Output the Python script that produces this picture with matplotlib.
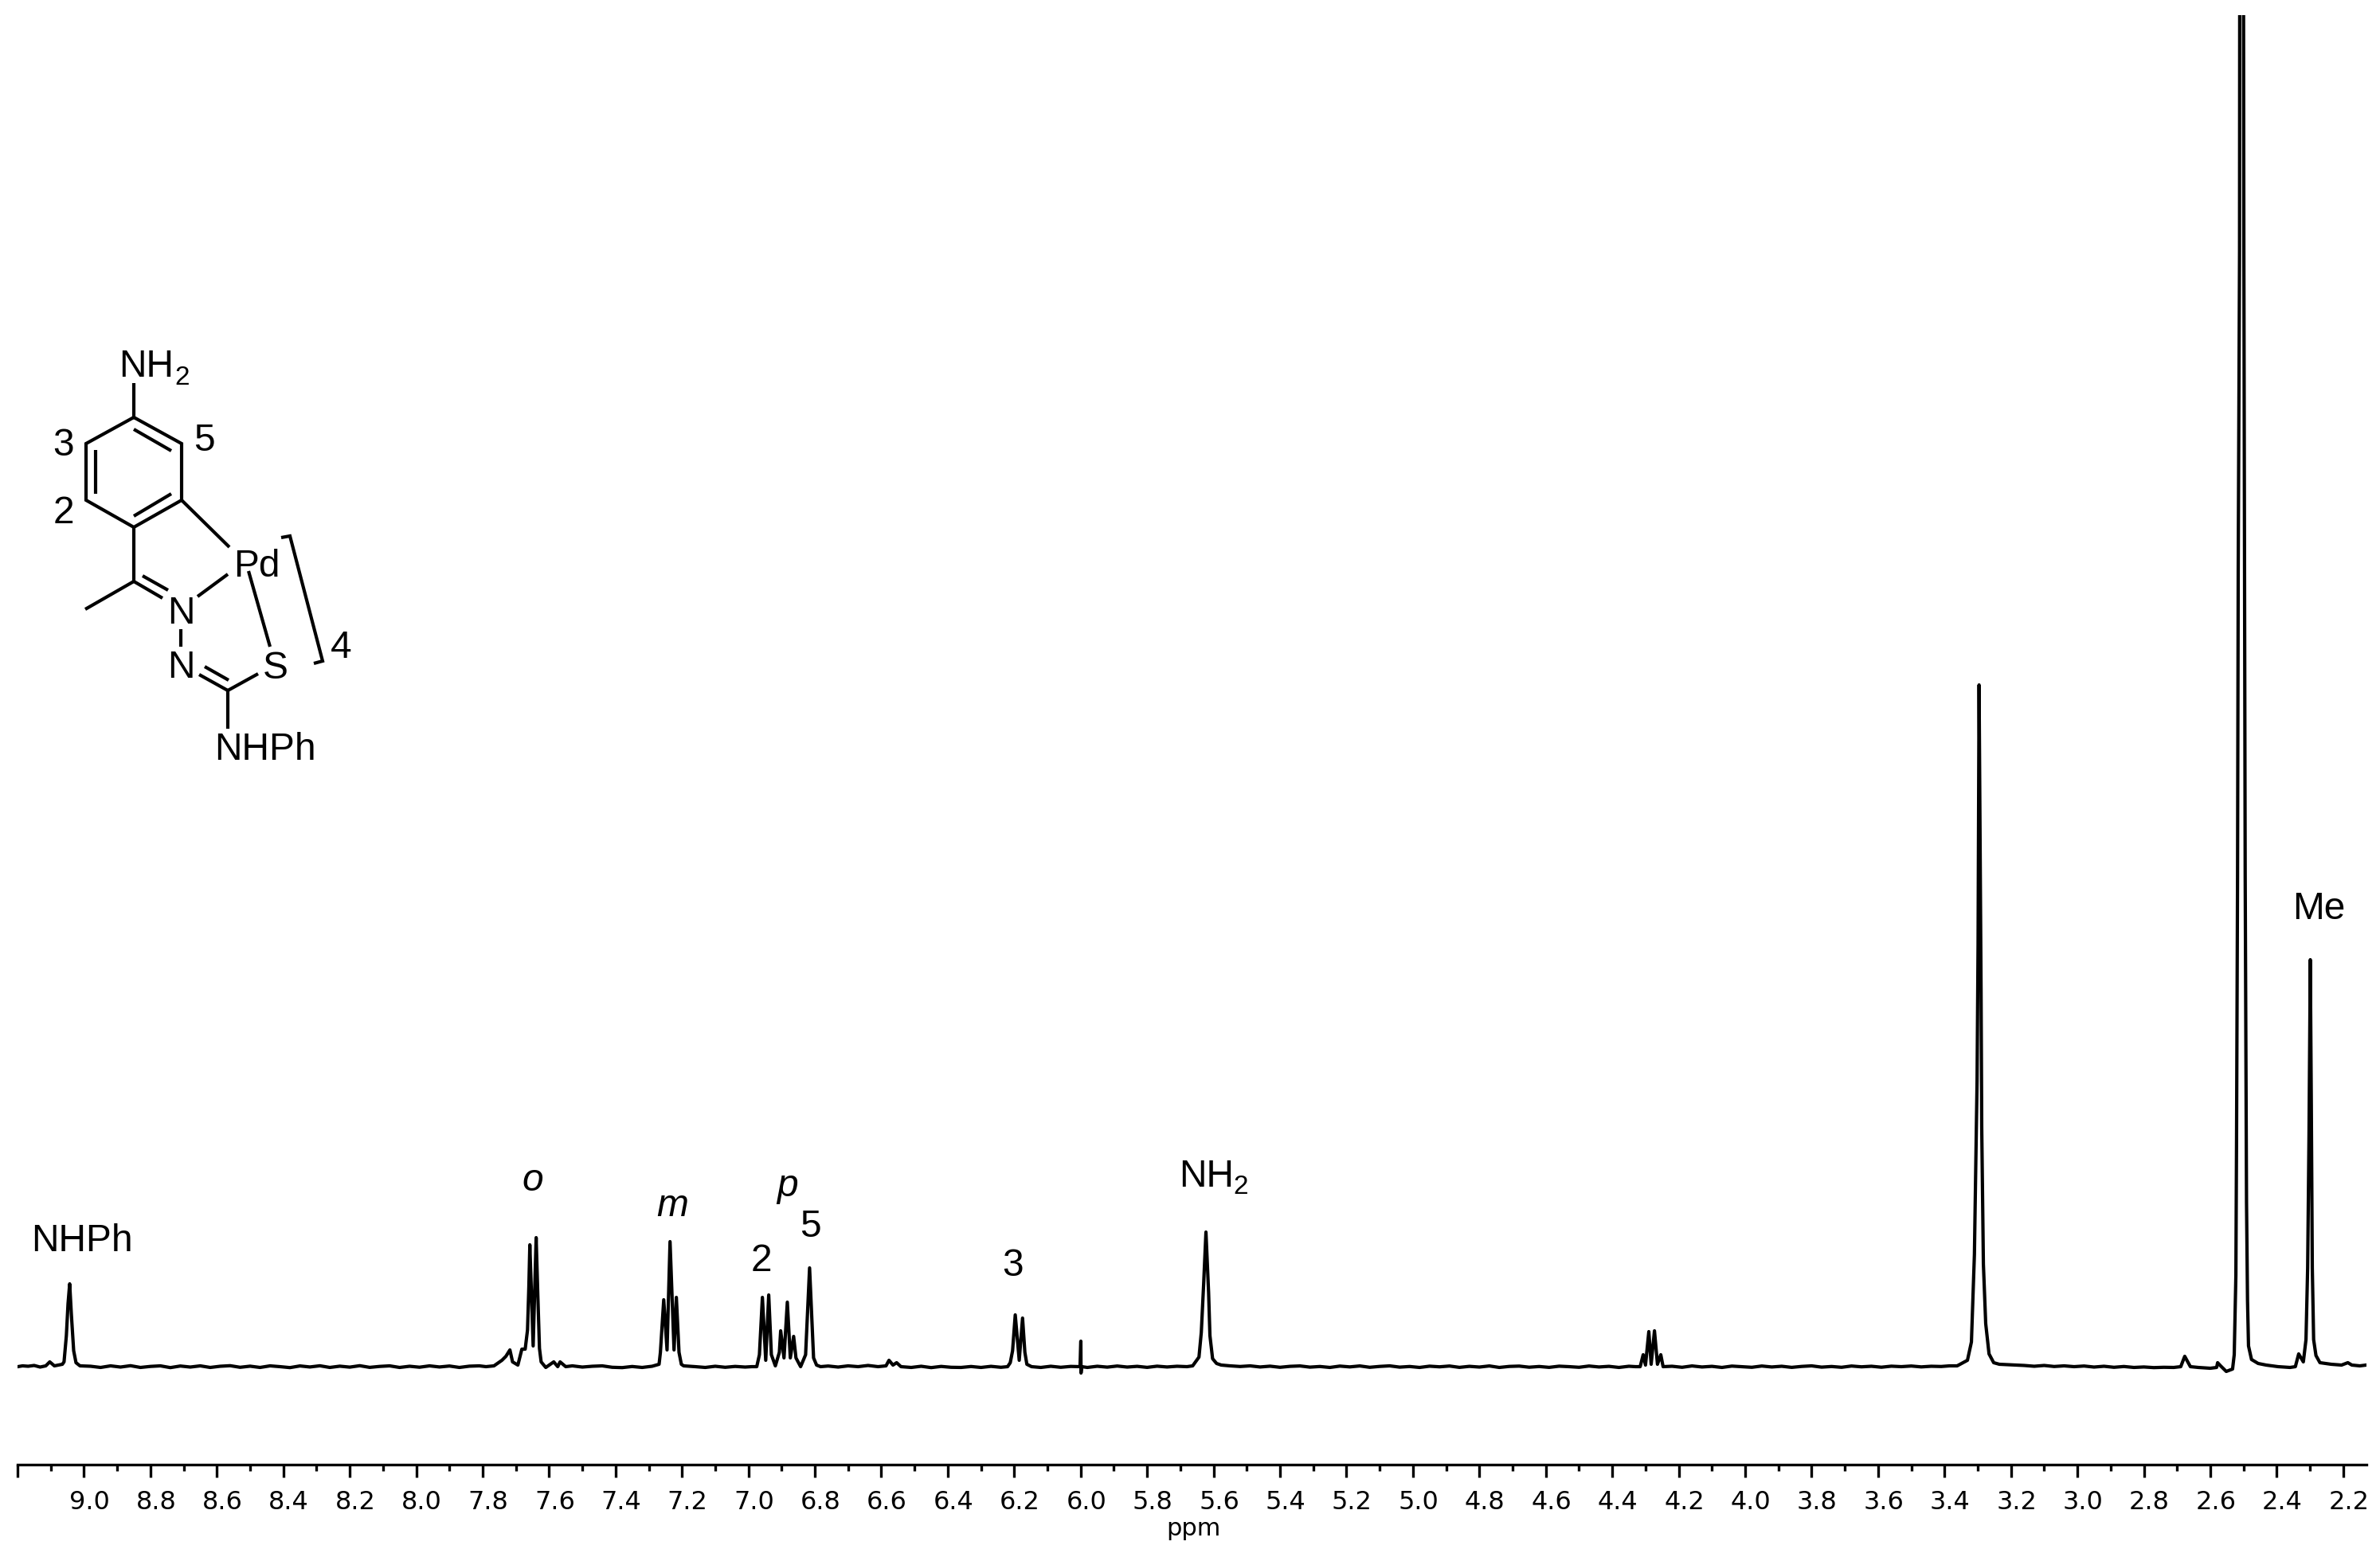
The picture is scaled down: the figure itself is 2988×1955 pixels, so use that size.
import numpy as np
import matplotlib
matplotlib.use('Agg')
import matplotlib.pyplot as plt
from matplotlib.transforms import ScaledTranslation

# traced spectrum, ppm and height above baseline (arbitrary units)
ppm_nhph = [9.199, 9.185, 9.168, 9.150, 9.132, 9.115, 9.103, 9.089, 9.065, 9.060, 9.053, 9.048, 9.043, 9.038, 9.031, 9.024, 9.012]
int_nhph = [0, 1, 0.5, 1.5, -0.5, 1, 6, 1, 3, 6, 39, 79, 104, 66, 20, 5, 1]

ppm_base1 = [8.98, 8.95, 8.92, 8.89, 8.86, 8.83, 8.80, 8.77, 8.74, 8.71, 8.68, 8.65, 8.62, 8.59, 8.56, 8.53, 8.50, 8.47, 8.44, 8.41, 8.38, 8.35, 8.32, 8.29, 8.26, 8.23, 8.20, 8.17, 8.14, 8.11, 8.08, 8.05, 8.02, 7.99, 7.96, 7.93, 7.90, 7.87, 7.84, 7.81, 7.79]
int_base1 = [0.5, -1, 1, -0.5, 1.2, -1, 0.3, 1, -1.2, 0.8, -0.5, 1, -1, 0.5, 1.2, -0.8, 0.6, -1, 1, 0, -1.2, 0.9, -0.4, 1.1, -1, 0.6, -0.6, 1.2, -0.9, 0.3, 1, -1, 0.5, -0.7, 1, -0.4, 0.8, -1, 0.6, 1, 0]

ppm_ortho = [7.766, 7.742, 7.730, 7.718, 7.710, 7.694, 7.682, 7.672, 7.665, 7.661, 7.658, 7.648, 7.639, 7.634, 7.629, 7.624, 7.610, 7.586, 7.574, 7.567, 7.550]
int_ortho = [1, 8, 13, 21, 6, 2, 22, 22, 46, 100, 153, 26, 162, 90, 23, 6, -1, 6, 0, 6, 0]

ppm_base2 = [7.53, 7.50, 7.47, 7.44, 7.41, 7.38, 7.35, 7.32, 7.29]
int_base2 = [1, -0.5, 0.5, 1, -0.8, -1.2, 0.2, -1, 0.5]

ppm_meta = [7.269, 7.265, 7.255, 7.245, 7.236, 7.224, 7.217, 7.209, 7.202, 7.195]
int_meta = [3, 18, 84, 21, 157, 21, 87, 18, 3, 1]

ppm_base3 = [7.16, 7.13, 7.10, 7.07, 7.04, 7.01, 6.99]
int_base3 = [0, -1, 0.5, -0.8, 0.3, -0.5, 0]

ppm_h2p5 = [6.975, 6.967, 6.958, 6.948, 6.939, 6.931, 6.919, 6.907, 6.903, 6.893, 6.883, 6.874, 6.864, 6.857, 6.843, 6.828, 6.816, 6.804, 6.795, 6.783]
int_h2p5 = [0, 15, 87, 8, 90, 15, 1, 18, 45, 11, 81, 11, 38, 11, 0, 15, 124, 11, 2, 0]

ppm_base4 = [6.76, 6.73, 6.70, 6.67, 6.64, 6.61, 6.586, 6.577, 6.565, 6.554, 6.541, 6.51, 6.48, 6.45, 6.42, 6.39, 6.36, 6.33, 6.30, 6.27, 6.24, 6.22]
int_base4 = [0.8, -0.5, 1, 0, 1.5, 0, 1, 8, 2, 5, 0, -1, 0.5, -1.2, 0.3, -0.8, -1, 0.2, -1, 0.4, -0.8, 0]

ppm_h3 = [6.212, 6.205, 6.197, 6.185, 6.175, 6.168, 6.162, 6.148]
int_h3 = [5, 20, 65, 8, 61, 18, 3, 0]

ppm_base5 = [6.12, 6.09, 6.06, 6.03, 6.005, 6.002, 5.9995, 5.999, 5.997, 5.98, 5.95, 5.92, 5.89, 5.86, 5.83, 5.80, 5.77, 5.74, 5.71, 5.68]
int_base5 = [-1, 0.5, -0.8, 0.3, 0, 0, 32, -8, 0, -1, 0.5, -0.6, 0.8, -0.5, 0.4, -0.9, 0.6, -0.4, 0.5, 0]

ppm_nh2 = [5.663, 5.644, 5.637, 5.630, 5.623, 5.615, 5.611, 5.603, 5.591, 5.577]
int_nh2 = [1, 12, 43, 103, 169, 93, 39, 10, 4, 2]

ppm_base6 = [5.55, 5.52, 5.49, 5.46, 5.43, 5.40, 5.37, 5.34, 5.31, 5.28, 5.25, 5.22, 5.19, 5.16, 5.13, 5.10, 5.07, 5.04, 5.01, 4.98, 4.95, 4.92, 4.89, 4.86, 4.83, 4.80, 4.77, 4.74, 4.71, 4.68, 4.65, 4.62, 4.59, 4.56, 4.53, 4.50, 4.47, 4.44, 4.41, 4.38, 4.35, 4.33]
int_base6 = [1, 0.2, 1, -0.4, 0.6, -0.8, 0.4, 0.9, -0.6, 0.2, -1, 0.7, -0.3, 0.9, -0.8, 0.3, 1, -0.6, 0.2, -1, 0.6, -0.2, 0.8, -0.9, 0.4, -0.5, 0.9, -1, 0.3, 0.7, -0.7, 0.2, -0.9, 0.6, 0, -0.8, 0.8, -0.4, 0.4, -1, 0.5, 0]

ppm_quart = [4.316, 4.307, 4.300, 4.290, 4.283, 4.273, 4.264, 4.254, 4.247]
int_quart = [0, 15, 2, 44, 3, 45, 3, 15, 0]

ppm_base7 = [4.22, 4.19, 4.16, 4.13, 4.10, 4.07, 4.04, 4.01, 3.98, 3.95, 3.92, 3.89, 3.86, 3.83, 3.80, 3.77, 3.74, 3.71, 3.68, 3.65, 3.62, 3.59, 3.56, 3.53, 3.50, 3.47, 3.44, 3.41, 3.385]
int_base7 = [0.5, -0.8, 0.9, -0.4, 0.4, -1, 0.7, 0, -0.8, 0.8, -0.4, 0.5, -0.9, 0.3, 1, -0.6, 0.2, -0.8, 0.8, -0.2, 0.5, -0.7, 0.6, 0, 0.8, -0.3, 0.5, 0.2, 1]

ppm_h2o = [3.362, 3.331, 3.319, 3.310, 3.302, 3.299, 3.296, 3.290, 3.288, 3.283, 3.276, 3.266, 3.252, 3.235, 3.187]
int_h2o = [1, 8, 31, 141, 359, 531, 856, 474, 301, 129, 54, 16, 5, 3, 2]

ppm_base8 = [3.16, 3.13, 3.10, 3.07, 3.04, 3.01, 2.98, 2.95, 2.92, 2.89, 2.86, 2.83, 2.80, 2.77, 2.74, 2.71]
int_base8 = [1.5, 0.5, 1.5, 0.2, 1, 0, 0.8, -0.5, 0.5, -0.8, 0.2, -1, -0.4, -1.2, -0.8, -1]

ppm_dmso = [2.689, 2.677, 2.660, 2.636, 2.600, 2.581, 2.578, 2.569, 2.552, 2.533, 2.528, 2.523, 2.521, 2.518, 2.516, 2.512, 2.5115, 2.505, 2.500, 2.499, 2.497, 2.495, 2.491, 2.488, 2.485, 2.476, 2.456, 2.432, 2.396, 2.360]
int_dmso = [0, 13, 0, -1, -2, -1, 5, 1, -6, -3, 15, 115, 288, 616, 1000, 1400, 1730, 2600, 1730, 1400, 1000, 616, 206, 83, 26, 9, 4, 2, 0, -1]

ppm_me = [2.344, 2.334, 2.320, 2.312, 2.307, 2.303, 2.299, 2.296, 2.293, 2.289, 2.282, 2.270, 2.236, 2.205, 2.186, 2.174, 2.150, 2.131]
int_me = [0, 16, 6, 34, 124, 288, 511, 329, 124, 34, 14, 5, 3, 2, 5, 2, 1, 2]

major_ticks = [9.2, 9.0, 8.8, 8.6, 8.4, 8.2, 8.0, 7.8, 7.6, 7.4, 7.2, 7.0, 6.8, 6.6, 6.4, 6.2, 6.0, 5.8, 5.6, 5.4, 5.2, 5.0, 4.8, 4.6, 4.4, 4.2, 4.0, 3.8, 3.6, 3.4, 3.2, 3.0, 2.8, 2.6, 2.4, 2.2]
minor_ticks = [9.1, 8.9, 8.7, 8.5, 8.3, 8.1, 7.9, 7.7, 7.5, 7.3, 7.1, 6.9, 6.7, 6.5, 6.3, 6.1, 5.9, 5.7, 5.5, 5.3, 5.1, 4.9, 4.7, 4.5, 4.3, 4.1, 3.9, 3.7, 3.5, 3.3, 3.1, 2.9, 2.7, 2.5, 2.3]
tick_labels = [''] + ['%.1f' % t for t in major_ticks[1:]]

ppm = np.concatenate([ppm_nhph, ppm_base1, ppm_ortho, ppm_base2, ppm_meta, ppm_base3, ppm_h2p5, ppm_base4, ppm_h3, ppm_base5, ppm_nh2, ppm_base6, ppm_quart, ppm_base7, ppm_h2o, ppm_base8, ppm_dmso, ppm_me])
intensity = np.concatenate([int_nhph, int_base1, int_ortho, int_base2, int_meta, int_base3, int_h2p5, int_base4, int_h3, int_base5, int_nh2, int_base6, int_quart, int_base7, int_h2o, int_base8, int_dmso, int_me])

W, H = 2988, 1955
fig = plt.figure(figsize=(W / 100, H / 100), dpi=100)

# spectrum axes: left 22 px, right 2971 px, top 19 px, axis line at 1839 px
ax = fig.add_axes([22 / W, 1 - 1839 / H, (2971 - 22) / W, (1839 - 19) / H])
ax.plot(ppm, intensity, color='black', lw=3.0)
ax.set_xlim(9.199, 2.130)
ax.set_ylim(1716 - 1839, 1716 - 19)
ax.set_yticks([])
for s in ['top', 'left', 'right']:
    ax.spines[s].set_visible(False)
ax.spines['bottom'].set_linewidth(2.4)
ax.set_xticks(major_ticks)
ax.set_xticklabels(tick_labels)
ax.set_xticks(minor_ticks, minor=True)
ax.tick_params(axis='x', which='major', length=11.5, width=2.4, labelsize=23, pad=11.5)
ax.tick_params(axis='x', which='minor', length=5.8, width=2.4)
shift = ScaledTranslation(7 / 100, 0, fig.dpi_scale_trans)
for lab in ax.get_xticklabels():
    lab.set_transform(lab.get_transform() + shift)
ax.set_xlabel('ppm', fontsize=22, labelpad=2.5, x=0.5007)

# overlay in pixel coordinates for the labels and the drawn structure
ov = fig.add_axes([0, 0, 1, 1])
ov.set_xlim(0, W)
ov.set_ylim(H, 0)
ov.axis('off')

bonds = [
    [(168, 481), (168, 524)],
    [(168, 524), (228, 557), (228, 628), (168, 662), (108, 628), (108, 557), (168, 524)],
    [(168, 539), (215, 566)],
    [(120, 565), (120, 620)],
    [(168, 648), (215, 620)],
    [(228, 628), (288, 687)],
    [(168, 662), (168, 730)],
    [(168, 730), (107, 765)],
    [(168, 730), (204, 751)],
    [(179, 723), (211, 741)],
    [(248, 749), (286, 721)],
    [(227, 790), (227, 812)],
    [(250, 847), (286, 867)],
    [(257, 837), (287, 854)],
    [(286, 867), (324, 846)],
    [(286, 867), (286, 915)],
    [(312, 717), (339, 812)],
    [(353, 675), (364, 673), (405, 830), (394, 833)],
]
for b in bonds:
    xs, ys = zip(*b)
    ov.plot(xs, ys, color='black', lw=3.0, solid_capstyle='butt', solid_joinstyle='miter')

arial = 'Liberation Sans'
labels = [
    ('NHPh', 103, 1571, 'normal', 34.5), ('o', 669, 1495, 'italic', 34.5), ('m', 844, 1527, 'italic', 34.5),
    ('p', 988, 1502, 'italic', 34.5), ('5', 1017, 1553, 'normal', 34.5), ('2', 956, 1596, 'normal', 34.5),
    ('3', 1272, 1602, 'normal', 34.5), ('NH', 1515, 1490, 'normal', 34.5), ('2', 1558, 1499, 'normal', 24),
    ('Me', 2911, 1154, 'normal', 34.5),
    ('NH', 184, 473, 'normal', 34.5), ('2', 229, 483, 'normal', 24), ('3', 80, 572, 'normal', 34.5),
    ('5', 256, 566, 'normal', 34.5), ('2', 80, 657, 'normal', 34.5), ('Pd', 322, 724, 'normal', 34.5),
    ('N', 227, 783, 'normal', 34.5), ('N', 227, 851, 'normal', 34.5), ('S', 346, 852, 'normal', 34.5),
    ('4', 428, 826, 'normal', 34.5), ('NHPh', 333, 954, 'normal', 34.5),
]
for txt, x, y, st, fs in labels:
    ov.text(x, y, txt, family=arial, style=st, fontsize=fs, ha='center', va='baseline', color='black')

fig.savefig('out.png', dpi=100)
